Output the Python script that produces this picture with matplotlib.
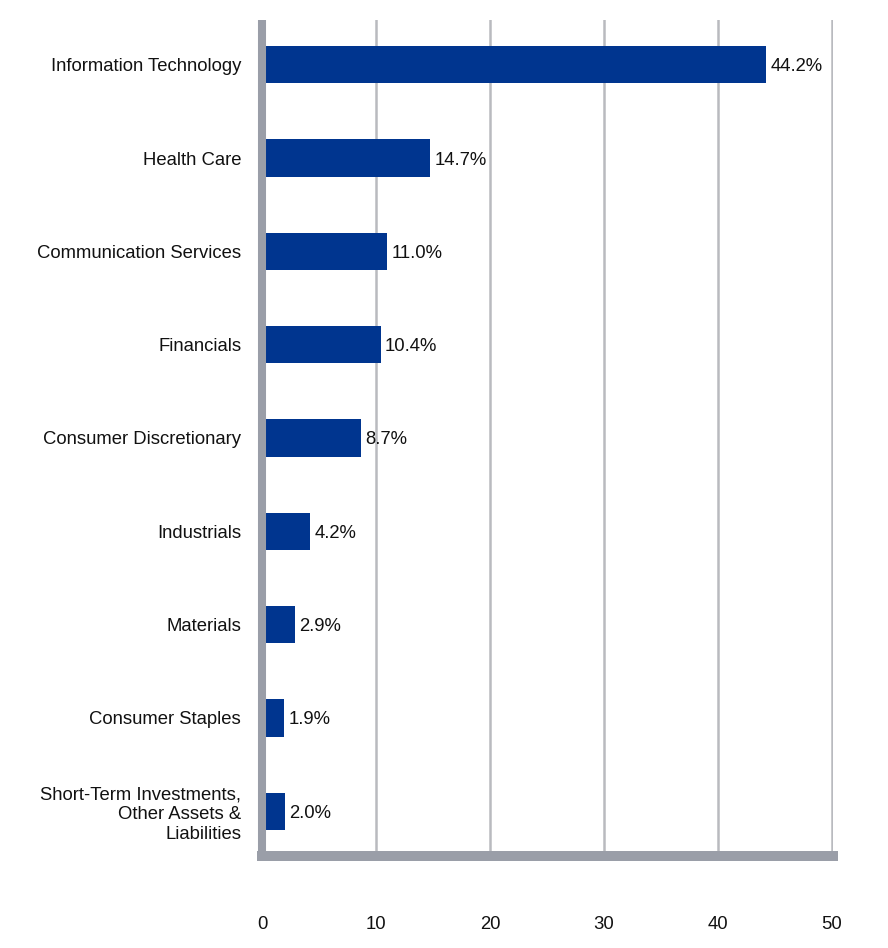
import matplotlib
matplotlib.use("Agg")
import matplotlib.pyplot as plt

categories = ["Information Technology", "Health Care", "Communication Services",
              "Financials", "Consumer Discretionary", "Industrials", "Materials",
              "Consumer Staples", "Short-Term Investments,\nOther Assets &\nLiabilities"]
values = [44.2, 14.7, 11.0, 10.4, 8.7, 4.2, 2.9, 1.9, 2.0]
xticks = [0, 10, 20, 30, 40, 50]

plt.rcParams['font.family'] = ['Liberation Sans', 'DejaVu Sans']

fig = plt.figure(figsize=(8.88, 9.48), dpi=100)
W, H = 888, 948
left, right, top, bottom = 262, 833, 20, 856
ax = fig.add_axes([left / W, 1 - bottom / H, (right - left) / W, (bottom - top) / H])

FS = 13.3
ypos = list(range(len(categories)))
bar_color = "#00358F"
ax.barh(ypos, values, height=0.4, color=bar_color, zorder=2)
for y, v in zip(ypos, values):
    ax.text(v + 0.4, y, f"{v:.1f}%", va="center_baseline", ha="left", fontsize=FS,
            color="#111111", zorder=3)

ax.set_xlim(0, 50.09)
ax.set_ylim(len(categories) - 0.52, -0.48)
ax.set_yticks(ypos)
ax.set_yticklabels(categories, fontsize=FS, linespacing=1.22)
ax.set_xticks(xticks)
ax.set_xticklabels([str(t) for t in xticks], fontsize=FS)

ax.grid(axis="x", color="#B9BABF", linewidth=1.8, zorder=1)
ax.grid(axis="y", visible=False)
ax.set_axisbelow(True)

for s in ["top", "right"]:
    ax.spines[s].set_visible(False)
spine_color = "#9A9EA8"
ax.spines["left"].set_color(spine_color)
ax.spines["left"].set_linewidth(5.8)
ax.spines["left"].set_capstyle("butt")
ax.spines["left"].set_zorder(4)
ax.spines["bottom"].set_color(spine_color)
ax.spines["bottom"].set_linewidth(7.2)
ax.spines["bottom"].set_capstyle("projecting")
ax.spines["bottom"].set_zorder(4)

ax.tick_params(axis="y", length=0, pad=15, colors="#111111")
ax.tick_params(axis="x", length=0, pad=43, colors="#111111")

fig.savefig("out.png", dpi=100, facecolor="white")
